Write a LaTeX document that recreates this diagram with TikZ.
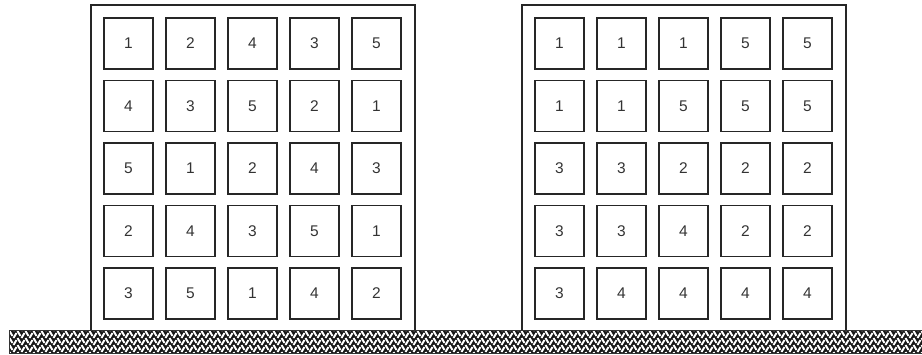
\documentclass[tikz,border=0pt]{standalone}
\usepackage{fontspec}
\setmainfont{Liberation Sans}
\begin{document}
\begin{tikzpicture}[x=1pt,y=-1pt,
  frame/.style={draw=black!85,line width=1.1pt},
  cell/.style={draw=black!85,line width=1.3pt,minimum width=49pt,minimum height=51pt,inner sep=0pt,font=\fontsize{15.5}{15.5}\selectfont,text=black!80},
  groundline/.style={draw=black!80,line width=0.8pt},
  hatch/.style={white,line width=1.9pt}]
\useasboundingbox (0,0) rectangle (922,354);
% ground band
\begin{scope}
\clip (9,330) rectangle (922,353);
\fill[black!90] (9,330) rectangle (922,353);
\foreach \k in {0,...,114}{
  \pgfmathsetmacro\xa{9+8*\k}
  \foreach \j in {0,...,4}{
    \pgfmathsetmacro\ya{324+7*\j}
    \draw[hatch] (\xa+0.5,\ya) -- (\xa+3.5,\ya+5);
    \draw[hatch] (\xa+4.5,\ya+7) -- (\xa+7.5,\ya+2);
  }
}
\end{scope}
\draw[groundline] (9,330) rectangle (922,353);
% frames
\draw[frame] (91,330) -- (91,5) -- (415,5) -- (415,330);
\draw[frame] (522,330) -- (522,5) -- (846,5) -- (846,330);
% left grid
\foreach \row [count=\r from 0] in {{1,2,4,3,5},{4,3,5,2,1},{5,1,2,4,3},{2,4,3,5,1},{3,5,1,4,2}}{
  \foreach \v [count=\c from 0] in \row{
    \node[cell] (L\r\c) at ({128.5+62*\c},{43.5+62.5*\r}) {\v};
  }
}
% right grid
\foreach \row [count=\r from 0] in {{1,1,1,5,5},{1,1,5,5,5},{3,3,2,2,2},{3,3,4,2,2},{3,4,4,4,4}}{
  \foreach \v [count=\c from 0] in \row{
    \node[cell] (R\r\c) at ({559.5+62*\c},{43.5+62.5*\r}) {\v};
  }
}
\end{tikzpicture}
\end{document}
